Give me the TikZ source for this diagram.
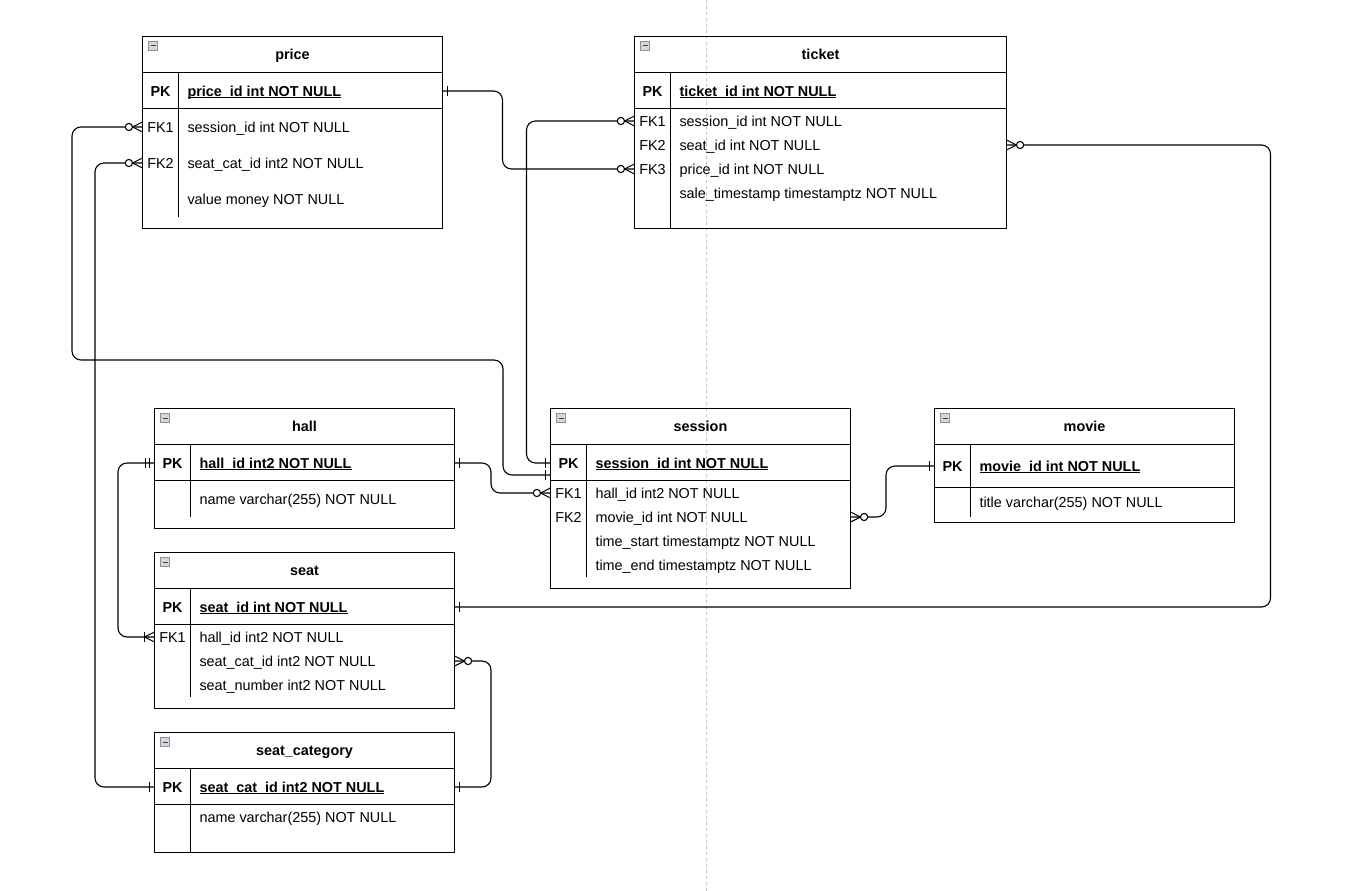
\documentclass[tikz,border=0pt]{standalone}
\usepackage{fontspec}
\setmainfont{Liberation Sans}
\usetikzlibrary{calc}

\definecolor{iconfill}{HTML}{D3D6DC}
\definecolor{iconedge}{HTML}{8C919A}
\definecolor{pagebreak}{HTML}{C4C4C4}

\tikzset{
  tablebox/.style={draw=black, line width=1.1pt, inner sep=0pt, outer sep=0pt, anchor=north west},
  tline/.style={draw=black, line width=1.1pt},
  conn/.style={draw=black, line width=1.1pt, rounded corners=9pt},
  endmark/.style={draw=black, line width=1.1pt},
  ertext/.style={inner sep=0pt, outer sep=0pt, text height=10.3pt, text depth=0pt,
                 font=\fontsize{14.4}{17}\selectfont},
  ttitle/.style={ertext, anchor=center, font=\fontsize{14.4}{17}\selectfont\bfseries},
  tkey/.style={ertext, anchor=center},
  tkeypk/.style={ertext, anchor=center, font=\fontsize{14.4}{17}\selectfont\bfseries},
  tfield/.style={ertext, anchor=west},
  tfieldpk/.style={ertext, anchor=west, font=\fontsize{14.4}{17}\selectfont\bfseries},
}

% underline for primary-key columns
\newcommand\pkline[1]{\setbox0\hbox{#1}\rlap{\rule[-2.3pt]{\wd0}{1.1pt}}\box0}

% table frame: name, left, top, right, bottom, header rule, key rule, column rule x, column rule end
\newcommand\ertable[9]{%
  \node[tablebox, minimum width={#4-#2}, minimum height={#5-#3}] (#1) at (#2,#3) {};
  \draw[tline] (#2,#6) -- (#4,#6);
  \draw[tline] (#2,#7) -- (#4,#7);
  \draw[tline] (#8,#6) -- (#8,#9);
  \draw[fill=iconfill, draw=iconedge, line width=0.6pt] (#2+6,#3+5) rectangle (#2+15,#3+14);
  \draw[draw=black!75, line width=1pt] (#2+8,#3+9.5) -- (#2+13,#3+9.5);
}
% primary-key row: table, key x, field x, y, field text
\newcommand\erpk[5]{%
  \node[tkeypk] (#1-k0) at (#2,#4) {PK};
  \node[tfieldpk] (#1-f0) at (#3,#4) {\pkline{#5}};
}
% ordinary row: table, index, key x, field x, y, key text, field text
\newcommand\errow[7]{%
  \node[tkey] (#1-k#2) at (#3,#5) {#6};
  \node[tfield] (#1-f#2) at (#4,#5) {#7};
}

% connector end symbols: anchor point, direction away from the table (1 or -1)
\newcommand\capone[2]{\begin{scope}[shift={(#1)},xscale=#2]
  \draw[endmark] (5,-5) -- (5,5);\end{scope}}
\newcommand\capmandone[2]{\begin{scope}[shift={(#1)},xscale=#2]
  \draw[endmark] (5,-5) -- (5,5); \draw[endmark] (9,-5) -- (9,5);\end{scope}}
\newcommand\capzeromany[2]{\begin{scope}[shift={(#1)},xscale=#2]
  \draw[endmark] (0,-5) -- (10,0) -- (0,5);
  \draw[endmark, fill=white] (13.6,0) circle[radius=3.6];\end{scope}}
\newcommand\caponemany[2]{\begin{scope}[shift={(#1)},xscale=#2]
  \draw[endmark] (0,-5) -- (10,0) -- (0,5);
  \draw[endmark] (10,-5) -- (10,5);\end{scope}}

\begin{document}
\begin{tikzpicture}[x=1pt,y=-1pt]
\useasboundingbox (0,0) rectangle (1362,891);
\fill[white] (0,0) rectangle (1362,891);

% page break guide
\draw[pagebreak, line width=0.7pt, dash pattern=on 3pt off 3pt] (706.5,0) -- (706.5,891);

% ---------------- price
\ertable{price}{142.5}{36.5}{442.5}{228.5}{72.5}{108.5}{178.5}{216.5}
\node[ttitle] (price-title) at (292.5,54.5) {price};
\erpk{price}{160.5}{187.5}{91}{price\_id int NOT NULL}
\errow{price}{1}{160.5}{187.5}{127}{FK1}{session\_id int NOT NULL}
\errow{price}{2}{160.5}{187.5}{163}{FK2}{seat\_cat\_id int2 NOT NULL}
\errow{price}{3}{160.5}{187.5}{199}{}{value money NOT NULL}

% ---------------- ticket
\ertable{ticket}{634.5}{36.5}{1006.5}{228.5}{72.5}{108.5}{670.5}{228.5}
\node[ttitle] (ticket-title) at (820.5,54.5) {ticket};
\erpk{ticket}{652.5}{679.5}{91}{ticket\_id int NOT NULL}
\errow{ticket}{1}{652.5}{679.5}{121}{FK1}{session\_id int NOT NULL}
\errow{ticket}{2}{652.5}{679.5}{145}{FK2}{seat\_id int NOT NULL}
\errow{ticket}{3}{652.5}{679.5}{169}{FK3}{price\_id int NOT NULL}
\errow{ticket}{4}{652.5}{679.5}{193}{}{sale\_timestamp timestamptz NOT NULL}

% ---------------- hall
\ertable{hall}{154.5}{408.5}{454.5}{528.5}{444.5}{480.5}{190.5}{516.5}
\node[ttitle] (hall-title) at (304.5,426.5) {hall};
\erpk{hall}{172.5}{199.5}{463}{hall\_id int2 NOT NULL}
\errow{hall}{1}{172.5}{199.5}{499}{}{name varchar(255) NOT NULL}

% ---------------- seat
\ertable{seat}{154.5}{552.5}{454.5}{708.5}{588.5}{624.5}{190.5}{696.5}
\node[ttitle] (seat-title) at (304.5,570.5) {seat};
\erpk{seat}{172.5}{199.5}{607}{seat\_id int NOT NULL}
\errow{seat}{1}{172.5}{199.5}{637}{FK1}{hall\_id int2 NOT NULL}
\errow{seat}{2}{172.5}{199.5}{661}{}{seat\_cat\_id int2 NOT NULL}
\errow{seat}{3}{172.5}{199.5}{685}{}{seat\_number int2 NOT NULL}

% ---------------- seat_category
\ertable{seatcat}{154.5}{732.5}{454.5}{852.5}{768.5}{804.5}{190.5}{852.5}
\node[ttitle] (seatcat-title) at (304.5,750.5) {seat\_category};
\erpk{seatcat}{172.5}{199.5}{787}{seat\_cat\_id int2 NOT NULL}
\errow{seatcat}{1}{172.5}{199.5}{817}{}{name varchar(255) NOT NULL}

% ---------------- session
\ertable{session}{550.5}{408.5}{850.5}{588.5}{444.5}{480.5}{586.5}{576.5}
\node[ttitle] (session-title) at (700.5,426.5) {session};
\erpk{session}{568.5}{595.5}{463}{session\_id int NOT NULL}
\errow{session}{1}{568.5}{595.5}{493}{FK1}{hall\_id int2 NOT NULL}
\errow{session}{2}{568.5}{595.5}{517}{FK2}{movie\_id int NOT NULL}
\errow{session}{3}{568.5}{595.5}{541}{}{time\_start timestamptz NOT NULL}
\errow{session}{4}{568.5}{595.5}{565}{}{time\_end timestamptz NOT NULL}

% ---------------- movie
\ertable{movie}{934.5}{408.5}{1234.5}{522.5}{444.5}{487.5}{970.5}{516.5}
\node[ttitle] (movie-title) at (1084.5,426.5) {movie};
\erpk{movie}{952.5}{979.5}{466}{movie\_id int NOT NULL}
\errow{movie}{1}{952.5}{979.5}{502}{}{title varchar(255) NOT NULL}

% ---------------- relationships
\coordinate (session-in) at ($(session.west |- session-f0)+(0,12)$);

\draw[conn] (price.east |- price-f0) -- ++(60,0) |- (ticket.west |- ticket-f3);
\draw[conn] (session.west |- session-f0) -- ++(-24,0) |- (ticket.west |- ticket-f1);
\draw[conn] (price.west |- price-f1) -- ++(-70.5,0) -- ++(0,233) -| ($(session-in)+(-47.5,0)$) -- (session-in);
\draw[conn] (price.west |- price-f2) -- ++(-47.5,0) |- (seatcat.west |- seatcat-f0);
\draw[conn] (hall.east |- hall-f0) -- ++(36.5,0) |- (session.west |- session-f1);
\draw[conn] (hall.west |- hall-f0) -- ++(-36.5,0) |- (seat.west |- seat-f1);
\draw[conn] (seat.east |- seat-f0) -- ++(816,0) |- (ticket.east |- ticket-f2);
\draw[conn] (session.east |- session-f2) -- ++(35.5,0) |- (movie.west |- movie-f0);
\draw[conn] (seat.east |- seat-f2) -- ++(36.5,0) |- (seatcat.east |- seatcat-f0);

\capone{price.east |- price-f0}{1}
\capzeromany{ticket.west |- ticket-f3}{-1}
\capone{session.west |- session-f0}{-1}
\capzeromany{ticket.west |- ticket-f1}{-1}
\capzeromany{price.west |- price-f1}{-1}
\capone{session-in}{-1}
\capzeromany{price.west |- price-f2}{-1}
\capone{seatcat.west |- seatcat-f0}{-1}
\capone{hall.east |- hall-f0}{1}
\capzeromany{session.west |- session-f1}{-1}
\capmandone{hall.west |- hall-f0}{-1}
\caponemany{seat.west |- seat-f1}{-1}
\capone{seat.east |- seat-f0}{1}
\capzeromany{ticket.east |- ticket-f2}{1}
\capzeromany{session.east |- session-f2}{1}
\capone{movie.west |- movie-f0}{-1}
\capzeromany{seat.east |- seat-f2}{1}
\capone{seatcat.east |- seatcat-f0}{1}
\end{tikzpicture}
\end{document}
